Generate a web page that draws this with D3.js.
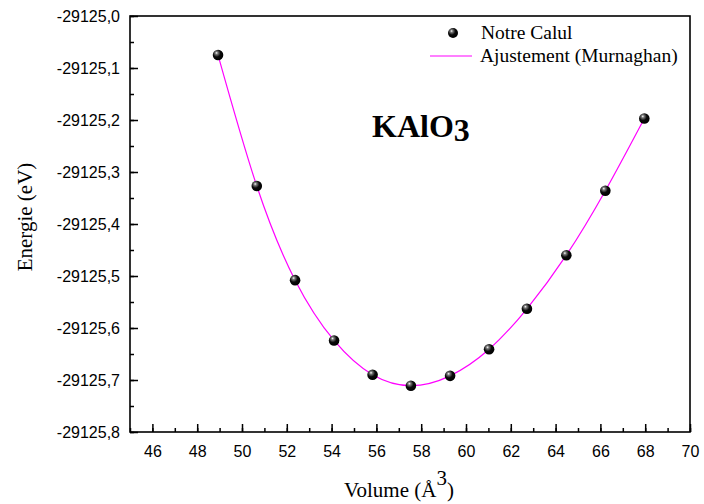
<!DOCTYPE html>
<html>
<head>
<meta charset="utf-8">
<script src="https://cdn.jsdelivr.net/npm/d3@7/dist/d3.min.js"></script>
<style>
  html, body { margin: 0; padding: 0; background: #fff; }
  svg { display: block; }
</style>
</head>
<body>
<svg id="chart" width="704" height="504"></svg>
<script>
// Volumes (Å^3) and total energies (eV) of KAlO3
const volumes  = [48.93, 50.66, 52.37, 54.11, 55.83, 57.54, 59.29, 61.03, 62.72, 64.48, 66.22, 67.96];
const energies = [-29125.075, -29125.327, -29125.508, -29125.624, -29125.690, -29125.711,
                  -29125.692, -29125.641, -29125.563, -29125.460, -29125.336, -29125.197];
const xTicks = [46, 48, 50, 52, 54, 56, 58, 60, 62, 64, 66, 68, 70];
const yTicks = [-29125.0, -29125.1, -29125.2, -29125.3, -29125.4, -29125.5, -29125.6, -29125.7, -29125.8];

const svg = d3.select("#chart");
const L = 130, R = 690, T = 16, B = 432;

const x = d3.scaleLinear().domain([45, 70]).range([L, R]);
const y = d3.scaleLinear().domain([-29125.8, -29125.0]).range([B, T]);

const fmtY = v => v.toFixed(1).replace(".", ",");
const sans = "Liberation Sans, Arial, sans-serif";
const serif = "Liberation Serif, Times New Roman, serif";

// sphere-like marker fill
const defs = svg.append("defs");
const grad = defs.append("radialGradient").attr("id", "ball")
  .attr("cx", "0.4").attr("cy", "0.35").attr("r", "0.65").attr("fx", "0.35").attr("fy", "0.3");
grad.append("stop").attr("offset", "0").attr("stop-color", "#ffffff");
grad.append("stop").attr("offset", "0.2").attr("stop-color", "#7a7a7a");
grad.append("stop").attr("offset", "0.55").attr("stop-color", "#0a0a0a");
grad.append("stop").attr("offset", "1").attr("stop-color", "#000");

// minor ticks
const minorX = d3.range(45, 70.001, 1);
const minorY = d3.range(-29125.8, -29124.999, 0.05);

const g = svg.append("g");

// bottom axis (ticks pointing inward)
const xAxis = d3.axisBottom(x).tickValues(xTicks).tickSize(-8).tickPadding(14)
  .tickFormat(d3.format("d"));
const gx = g.append("g").attr("transform", `translate(0,${B})`).call(xAxis);
gx.selectAll(".tick text").attr("font-family", sans).attr("font-size", 16).attr("fill", "#000");
gx.select(".domain").remove();
g.append("g").attr("transform", `translate(0,${B})`)
  .call(d3.axisBottom(x).tickValues(minorX).tickSize(-4).tickFormat(""))
  .select(".domain").remove();

// left axis
const yAxis = d3.axisLeft(y).tickValues(yTicks).tickSize(-8).tickPadding(10).tickFormat(fmtY);
const gy = g.append("g").attr("transform", `translate(${L},0)`).call(yAxis);
gy.selectAll(".tick text").attr("font-family", sans).attr("font-size", 16).attr("fill", "#000");
gy.select(".domain").remove();
g.append("g").attr("transform", `translate(${L},0)`)
  .call(d3.axisLeft(y).tickValues(minorY).tickSize(-4).tickFormat(""))
  .select(".domain").remove();

g.selectAll(".tick line").attr("stroke", "#000").attr("stroke-width", 1.5);

// frame
svg.append("rect").attr("x", L).attr("y", T).attr("width", R - L).attr("height", B - T)
  .attr("fill", "none").attr("stroke", "#000").attr("stroke-width", 1.6);

// fitted curve
const pts = volumes.map((v, i) => [v, energies[i]]);
const line = d3.line().x(d => x(d[0])).y(d => y(d[1])).curve(d3.curveNatural);
svg.append("path").attr("d", line(pts)).attr("fill", "none")
  .attr("stroke", "#ff00ff").attr("stroke-width", 1.2);

// computed points
svg.append("g").selectAll("circle").data(pts).join("circle")
  .attr("cx", d => x(d[0])).attr("cy", d => y(d[1])).attr("r", 5.3)
  .attr("fill", "url(#ball)");

// legend
const lg = svg.append("g").attr("font-family", serif).attr("font-size", 19.5).attr("fill", "#000");
lg.append("circle").attr("cx", 453).attr("cy", 33).attr("r", 5).attr("fill", "url(#ball)");
lg.append("text").attr("x", 481).attr("y", 39).text("Notre Calul");
lg.append("line").attr("x1", 430).attr("x2", 472).attr("y1", 56).attr("y2", 56)
  .attr("stroke", "#ff00ff").attr("stroke-width", 1.2);
lg.append("text").attr("x", 480).attr("y", 62).text("Ajustement (Murnaghan)");

// compound name
const title = svg.append("text").attr("x", 372).attr("y", 137)
  .attr("font-family", serif).attr("font-weight", "bold").attr("font-size", 32).attr("fill", "#000");
title.append("tspan").text("KAlO");
title.append("tspan").attr("dy", 4).text("3");

// axis titles
svg.append("text").attr("transform", "translate(32,217) rotate(-90)")
  .attr("text-anchor", "middle").attr("font-family", serif)
  .attr("font-size", 21).attr("fill", "#000").text("Energie (eV)");

const xl = svg.append("text").attr("x", 399).attr("y", 497).attr("text-anchor", "middle")
  .attr("font-family", serif).attr("font-size", 21).attr("fill", "#000");
xl.append("tspan").text("Volume (Å");
xl.append("tspan").attr("dy", -12).text("3");
xl.append("tspan").attr("dy", 12).text(")");
</script>
</body>
</html>
